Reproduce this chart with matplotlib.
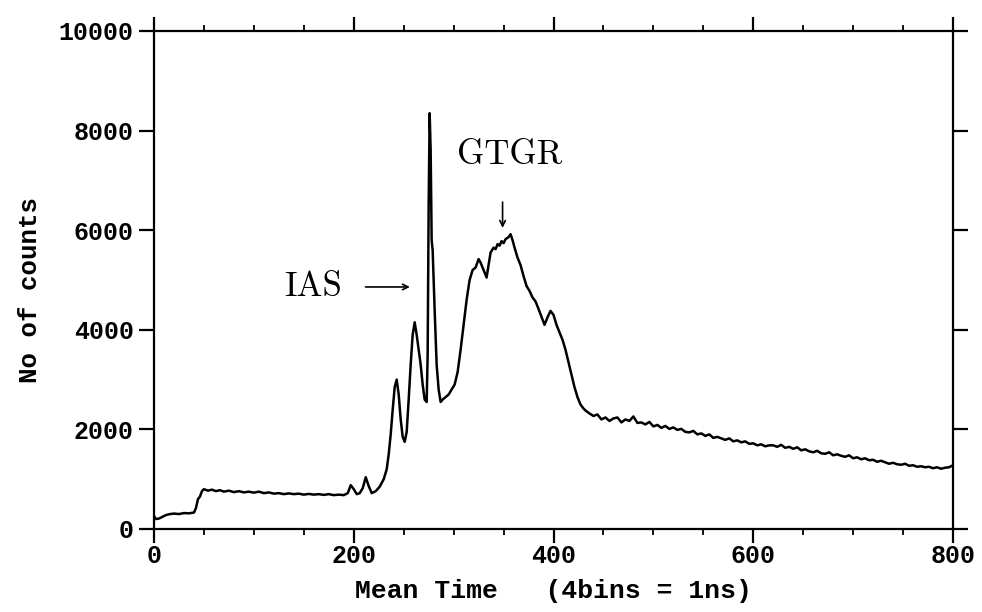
import matplotlib
matplotlib.use("Agg")
import matplotlib.pyplot as plt
from matplotlib.ticker import MultipleLocator

# 平均时间 (bins) 与计数
mean_time = [
    0, 2, 5, 8, 12, 16, 20, 25, 30, 35, 40, 42, 44, 46, 48, 50,
    54, 58, 62, 66, 70, 75, 80, 85, 90, 95, 100, 105, 110, 115, 120,
    125, 130, 135, 140, 145, 150, 155, 160, 165, 170, 175, 180, 185, 190,
    194, 197, 200, 203, 206, 209, 212, 215, 218, 222, 226, 230, 233, 235,
    237, 239, 241, 243, 245, 247, 249, 251, 253, 255, 257, 259, 261, 263,
    265, 267, 269, 271, 273, 274, 275, 276, 277, 278, 279, 281, 283, 285,
    287, 289, 292, 295, 298, 301, 304, 307, 310, 313, 316, 319, 322, 325,
    327, 329, 331, 333, 335, 337, 340, 342, 344, 346, 348, 350, 352, 355,
    357, 359, 361, 364, 367, 370, 373, 376, 379, 382, 385, 388, 391, 394,
    397, 400, 403, 406, 409, 412, 415, 418, 421, 424, 427, 430,
    432, 436, 440, 444, 448, 452, 456, 460, 464, 468, 472, 476, 480, 484,
    488, 492, 496, 500, 504, 508, 512, 516, 520, 524, 528, 532, 536, 540,
    544, 548, 552, 556, 560, 564, 568, 572, 576, 580, 584, 588, 592, 596,
    600, 604, 608, 612, 616, 620, 624, 628, 632, 636, 640, 644, 648, 652,
    656, 660, 664, 668, 672, 676, 680, 684, 688, 692, 696, 700, 704, 708,
    712, 716, 720, 724, 728, 732, 736, 740, 744, 748, 752, 756, 760, 764,
    768, 772, 776, 780, 784, 788, 792, 796, 800,
]
counts = [
    260, 200, 210, 240, 280, 300, 310, 300, 320, 315, 330, 420, 600, 650, 760, 800,
    770, 790, 760, 780, 750, 770, 740, 760, 735, 750, 730, 750, 720, 735, 710,
    720, 700, 715, 700, 710, 690, 705, 690, 700, 685, 700, 680, 690, 680,
    720, 880, 800, 700, 720, 820, 1040, 860, 720, 760, 850, 1000, 1200, 1500,
    1900, 2400, 2850, 3000, 2700, 2200, 1850, 1750, 1950, 2600, 3300, 3900, 4150, 3900,
    3600, 3300, 2900, 2600, 2550, 3500, 6500, 8350, 7600, 5800, 5600, 4400, 3300, 2800,
    2550, 2600, 2650, 2700, 2800, 2900, 3150, 3600, 4100, 4600, 5000, 5200, 5250, 5420,
    5350, 5250, 5150, 5050, 5300, 5550, 5650, 5620, 5720, 5690, 5780, 5740, 5820, 5860,
    5920, 5800, 5650, 5450, 5300, 5080, 4880, 4780, 4650, 4570, 4420, 4260, 4100, 4250,
    4380, 4300, 4100, 3950, 3800, 3600, 3350, 3100, 2850, 2650, 2500, 2420,
    2380, 2320, 2270, 2300, 2200, 2240, 2170, 2220, 2240, 2140, 2200, 2170, 2260, 2130,
    2140, 2100, 2150, 2060, 2090, 2030, 2070, 2010, 2040, 1990, 2010, 1950, 1940, 1970,
    1900, 1920, 1870, 1900, 1830, 1850, 1820, 1790, 1820, 1760, 1780, 1740, 1760, 1710,
    1720, 1680, 1700, 1660, 1680, 1680, 1650, 1690, 1630, 1650, 1610, 1640, 1580, 1600,
    1560, 1540, 1570, 1520, 1510, 1540, 1480, 1500, 1470, 1450, 1480, 1420, 1440, 1400,
    1420, 1380, 1390, 1350, 1370, 1340, 1310, 1330, 1300, 1290, 1310, 1270, 1280, 1250,
    1260, 1240, 1250, 1220, 1240, 1210, 1230, 1240, 1280,
]

x_ticks = [0, 200, 400, 600, 800]
y_ticks = [0, 2000, 4000, 6000, 8000, 10000]

MONO = "Liberation Mono"

fig = plt.figure(figsize=(9.82, 6.12), dpi=100)
ax = fig.add_axes([154 / 982, (612 - 529) / 612, 799 / 982, 498 / 612])

ax.plot(mean_time, counts, color="black", linewidth=1.8)

ax.set_xlim(0, 800)
ax.set_ylim(0, 10000)
ax.set_xticks(x_ticks)
ax.set_yticks(y_ticks)
ax.xaxis.set_minor_locator(MultipleLocator(50))

for s in ax.spines.values():
    s.set_linewidth(1.6)

ax.tick_params(axis="x", which="major", direction="out", length=10, width=1.6,
               top=True, bottom=True, labeltop=False, pad=1)
ax.tick_params(axis="x", which="minor", direction="out", length=4.5, width=1.3,
               top=True, bottom=True)
ax.tick_params(axis="y", which="major", direction="out", length=10.5, width=1.6,
               left=True, right=True, labelright=False, pad=4)

for lab in ax.get_xticklabels() + ax.get_yticklabels():
    lab.set_fontfamily(MONO)
    lab.set_fontweight("bold")
    lab.set_fontsize(18)

# 轴标题
fig.text(553 / 982, 1 - 591 / 612, "Mean Time   (4bins = 1ns)", family=MONO,
         fontweight="bold", fontsize=19, ha="center", va="center")
fig.text(30 / 982, 1 - 290 / 612, "No of counts", family=MONO,
         fontweight="bold", fontsize=18.5, rotation=90, ha="center", va="center")

# 标注
ax.text(159, 4860, "IAS", family="cmr10", fontsize=25, ha="center", va="center")
ax.annotate("", xy=(259, 4860), xytext=(209, 4860),
            arrowprops=dict(arrowstyle="->", color="black", lw=1.2))
ax.text(356, 7510, "GTGR", family="cmr10", fontsize=25, ha="center", va="center")
ax.annotate("", xy=(349, 5990), xytext=(349, 6620),
            arrowprops=dict(arrowstyle="->", color="black", lw=1.2))

fig.savefig("out.png", dpi=100)
